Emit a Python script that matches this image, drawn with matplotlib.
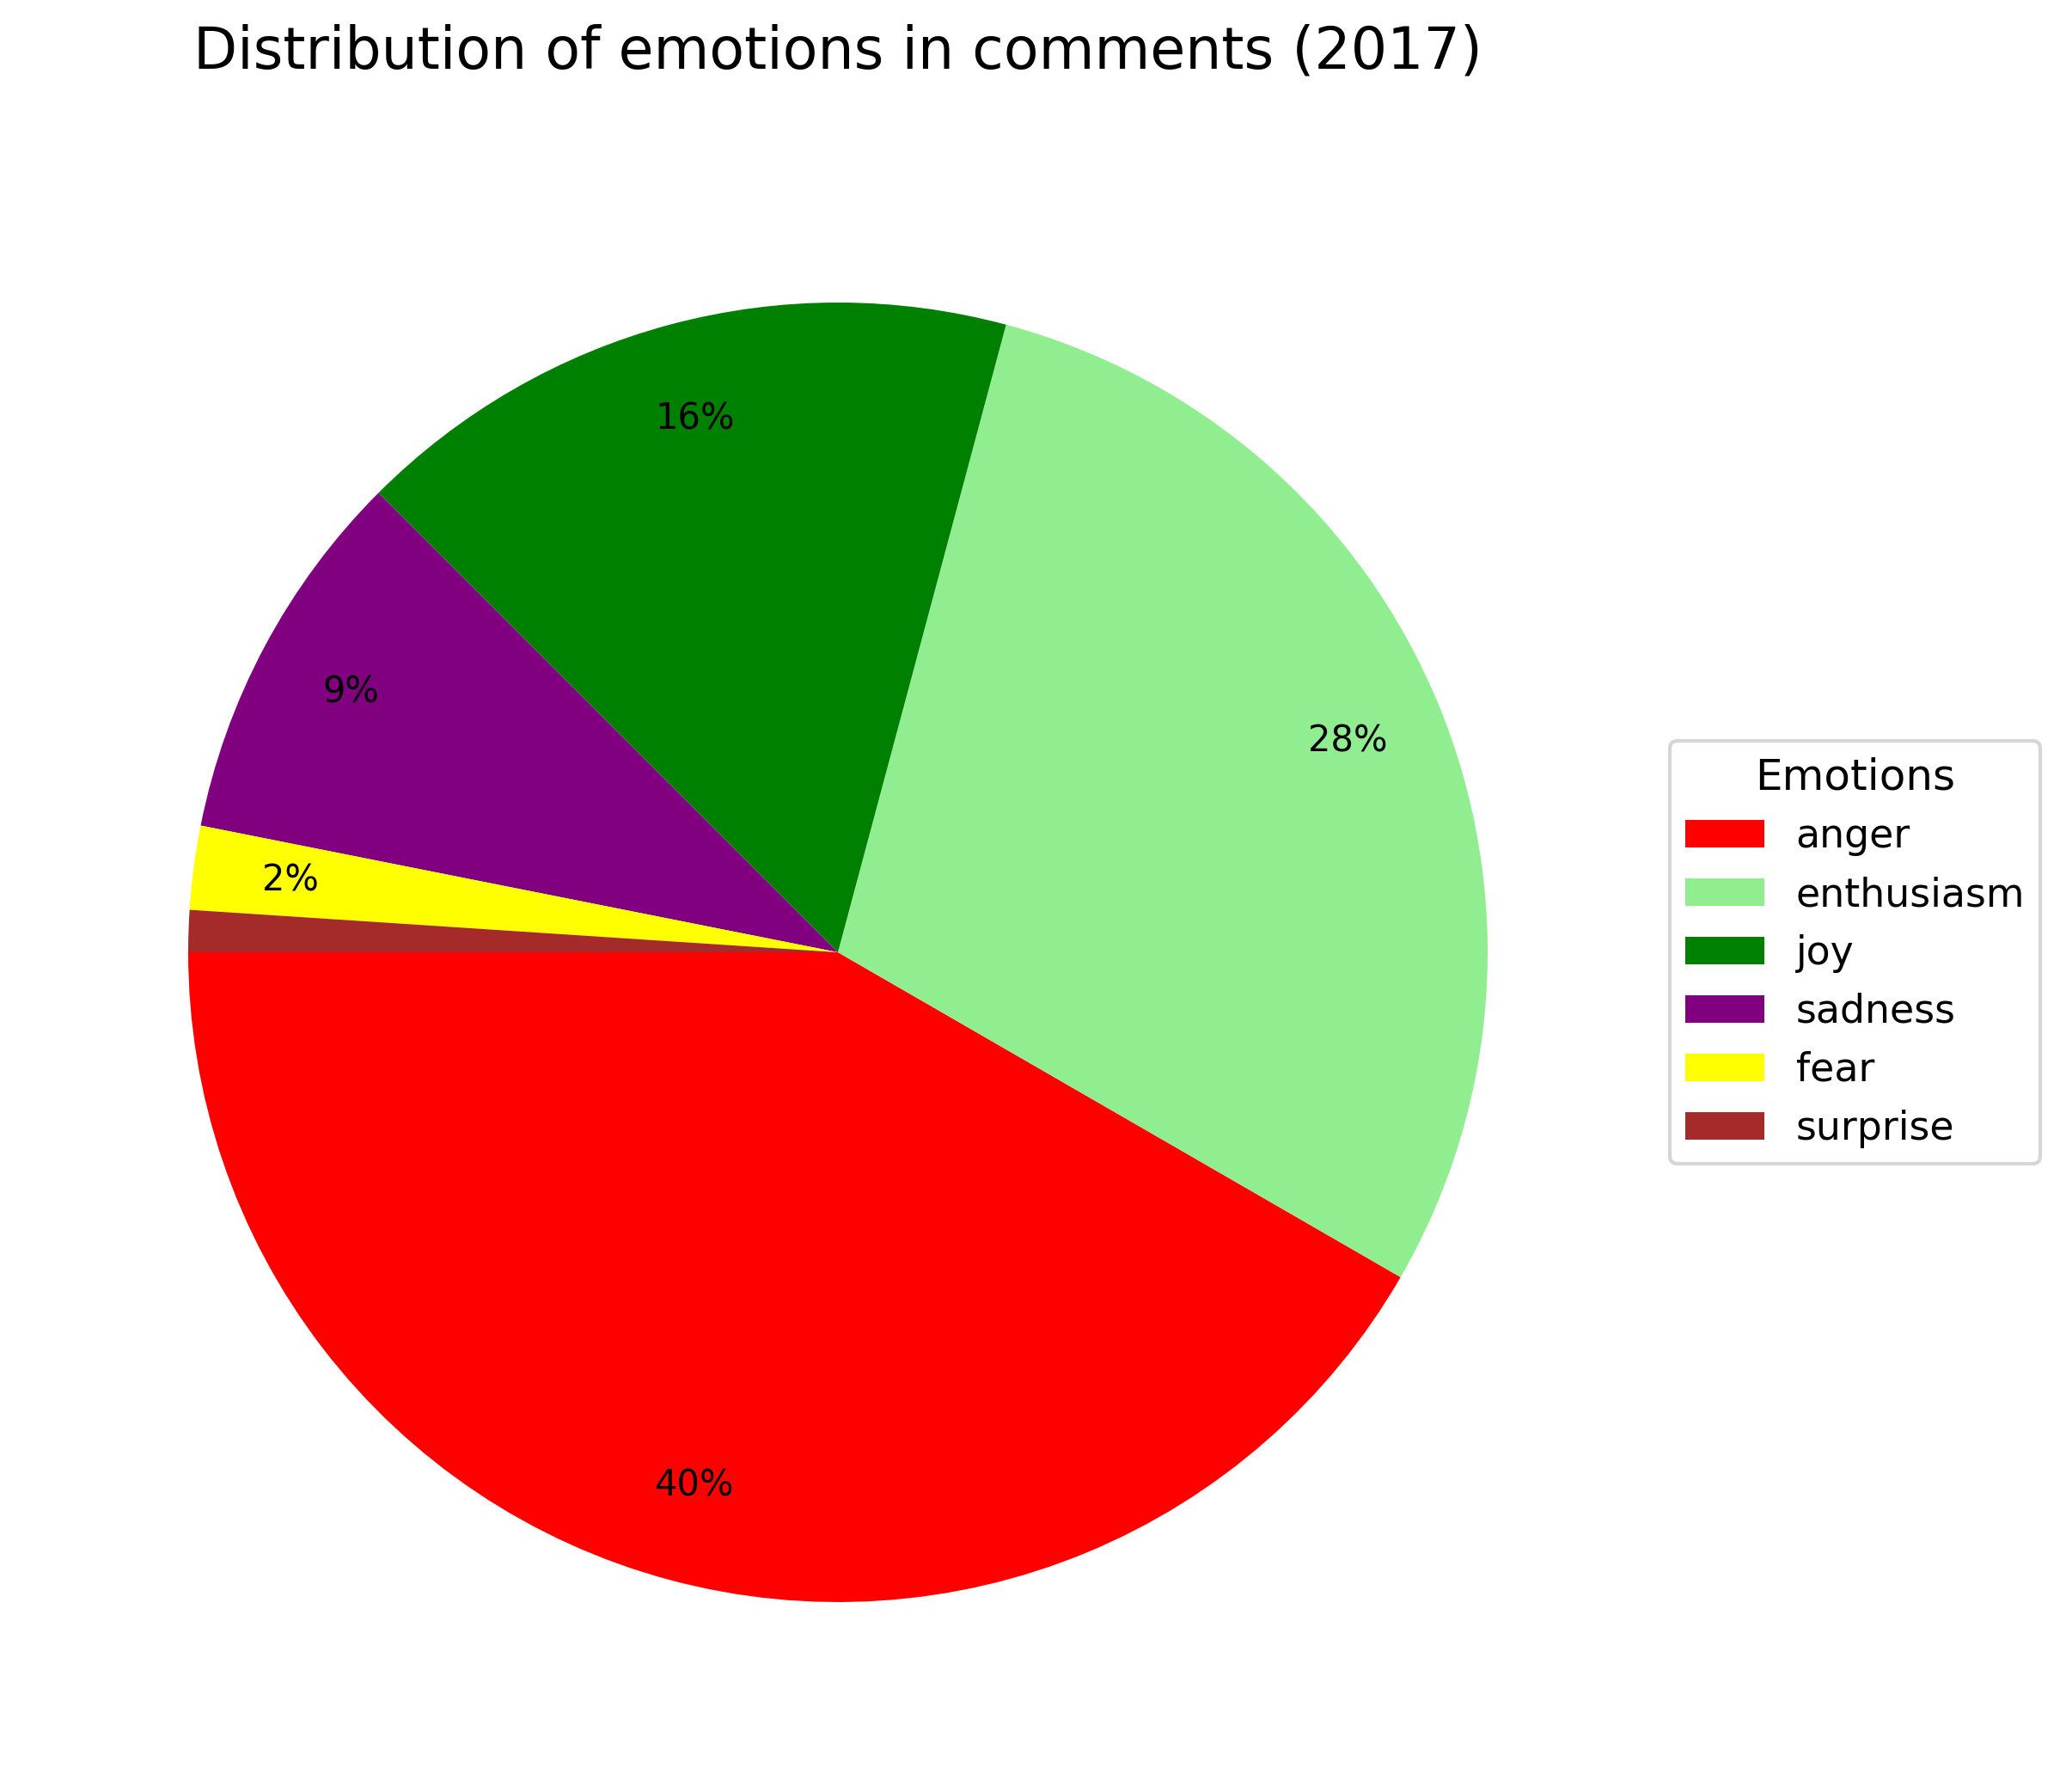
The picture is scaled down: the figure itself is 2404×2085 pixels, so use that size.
import matplotlib.pyplot as plt

emotions = ['anger', 'enthusiasm', 'joy', 'sadness', 'fear', 'surprise']
# share of all 2017 comments (%), the rest is outside these emotions
shares = [40, 28, 16, 9, 2, 1]
colors = ['red', 'lightgreen', 'green', 'purple', 'yellow', 'brown']

total = sum(shares)


def pct_label(p):
    # show share of all comments, hide tiny slices
    if p < 1.5:
        return ''
    return '%d%%' % round(p * total / 100)


fig = plt.figure(figsize=(2404 / 300, 2085 / 300), dpi=300)
ax = fig.add_axes([30 / 2404, 32 / 2085, 1890 / 2404, 1890 / 2085])

wedges, texts, autotexts = ax.pie(shares, colors=colors, startangle=180,
                                  autopct=pct_label, pctdistance=0.85)
for t in autotexts:
    t.set_fontsize(10)
ax.set_aspect('equal')

ax.set_title('Distribution of emotions in comments (2017)', fontsize=16, pad=20)
ax.legend(wedges, emotions, title='Emotions', loc='center left',
          bbox_to_anchor=(1, 0, 0.5, 1), fontsize=11, title_fontsize=12)

fig.savefig('out.png', dpi=300)
